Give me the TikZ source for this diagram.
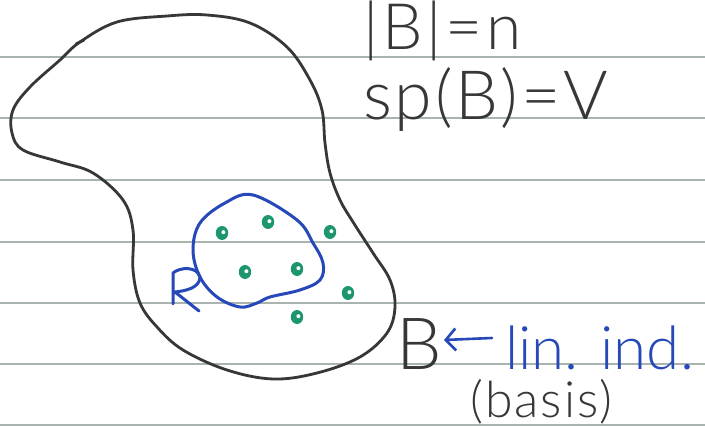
\documentclass[tikz,border=0pt]{standalone}
\usepackage{fontspec}
\setmainfont{Lato}[UprightFont={* Light}]
\usetikzlibrary{arrows.meta}
\definecolor{inkgrey}{RGB}{55,55,55}
\definecolor{inkblue}{RGB}{38,72,185}
\definecolor{inkgreen}{RGB}{28,150,108}
\definecolor{ruled}{RGB}{170,180,174}
\tikzset{
  ruleline/.style={draw=ruled, line width=1.2pt},
  blob/.style={draw=inkgrey, line width=2.8pt, line join=round, line cap=round},
  bluepen/.style={draw=inkblue, line width=3pt, line join=round, line cap=round},
  greytext/.style={text=inkgrey, inner sep=0pt, anchor=base west},
  bluetext/.style={text=inkblue, inner sep=0pt, anchor=base west},
  arr/.style={draw=inkblue, line width=2.6pt, line cap=round, -{Straight Barb[length=10pt,width=22pt,line width=2.6pt]}}
}
\begin{document}
\begin{tikzpicture}[x=1pt,y=-1pt]
\fill[white] (0,0) rectangle (705,427);
\useasboundingbox (0,0) rectangle (705,427);
% ruled paper lines
\foreach \yy in {57,118,180,242,303,364,425}
  \draw[ruleline] (0,\yy) -- (705,\yy);
% big set outline
\draw[blob] plot[smooth cycle, tension=0.6] coordinates {
 (80,42) (117,22) (167,16) (207,15) (250,23) (287,47) (310,80) (322,110)
 (325,143) (330,173) (340,200) (353,222) (373,253) (390,280) (395,307)
 (387,333) (360,357) (317,373) (273,379) (227,370) (183,350) (157,327)
 (140,303) (133,270) (133,230) (123,200) (93,173) (60,162) (23,150)
 (12,133) (13,110) (30,87) (60,60)};
\draw[blob] (76,44) -- (84,40);
% blue subset R
\draw[bluepen] plot[smooth cycle, tension=0.6] coordinates {
 (200,223) (225,203) (253,195) (297,220) (313,243) (323,263) (320,280)
 (300,290) (270,297) (257,303) (240,307) (217,297) (200,277) (193,250)};
\draw[bluepen] (173,304) -- (173,273) .. controls (180,267) and (197,266) .. (200,277)
  .. controls (200,288) and (185,291) .. (175,292) -- (199,311);
% green dots
\foreach \px/\py in {222/233, 268/222, 330/232, 245/272, 297/269, 348/293, 297/317} {
  \fill[inkgreen] (\px,\py) ellipse[x radius=6.2, y radius=7];
  \fill[white] (\px+1.4,\py-0.8) circle[radius=2];
}
% texts
\node[greytext, font=\fontsize{64}{64}\selectfont\addfontfeatures{LetterSpace=6}] (card) at (363,50) {|B|=n};
\node[greytext, font=\fontsize{68}{68}\selectfont\addfontfeatures{LetterSpace=4}] (span) at (363,120) {sp(B)=V};
\node[greytext, font=\fontsize{72}{72}\selectfont] (Bn) at (396,370) {B};
\node[bluetext, font=\fontsize{60}{60}\selectfont] (lin) at (505,370) {lin. ind.};
\node[greytext, font=\fontsize{50}{50}\selectfont\addfontfeatures{LetterSpace=4}] (basis) at (470,418) {(basis)};
\coordinate (atail) at (492,338);
\coordinate (ahead) at (444,340);
\draw[arr] (atail) -- (ahead);
\end{tikzpicture}
\end{document}
